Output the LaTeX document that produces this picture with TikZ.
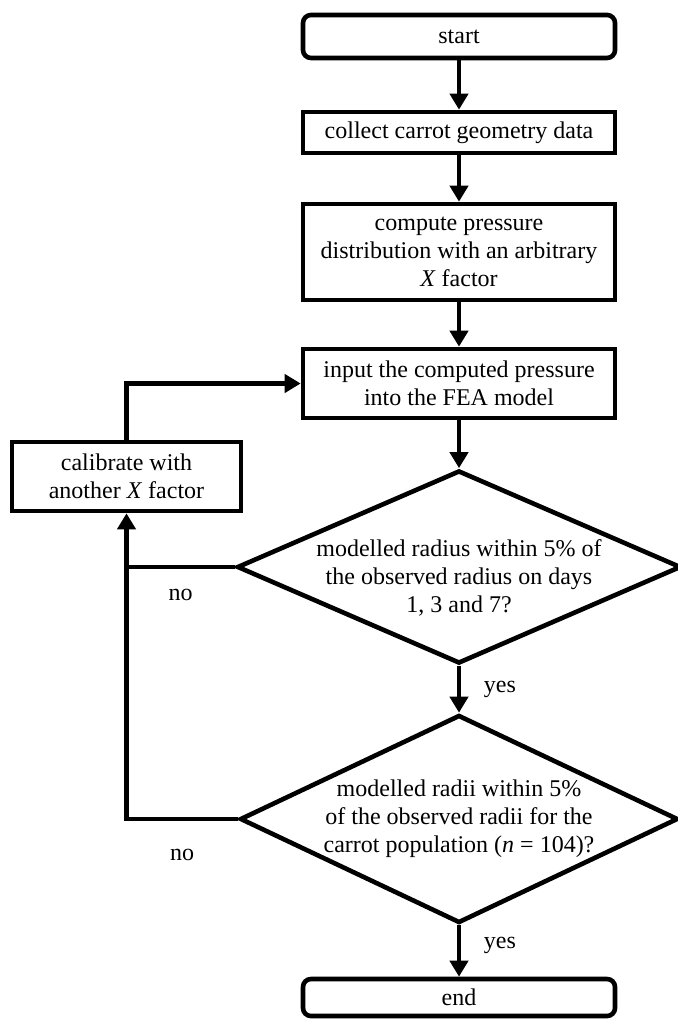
\documentclass[tikz,border=0pt]{standalone}
\usepackage{fontspec}
\setmainfont{Liberation Serif}
\usetikzlibrary{arrows.meta,shapes.geometric}

\begin{document}
\begin{tikzpicture}[x=0.5pt,y=-0.5pt,
		every node/.style={font=\fontsize{12}{14}\selectfont,align=center},
		box/.style={draw,line width=2.3pt,minimum width=156pt,inner sep=2pt},
		term/.style={box,rounded corners=4pt},
		test/.style={draw,diamond,line width=2.3pt,aspect=2.3,inner sep=-5pt,minimum width=219pt},
		arr/.style={line width=2.3pt,-{Triangle[length=8pt,width=9pt]}},
		lbl/.style={inner sep=0pt}]
		\useasboundingbox (0,0) rectangle (677,1020);
		\node[term,minimum height=21.5pt] (start) at (459,36.5) {start};
		\node[box,minimum height=20.5pt] (collect) at (459,132.5) {collect carrot geometry data};
		\node[box,minimum height=48pt] (compute) at (459,252) {compute pressure\\distribution with an arbitrary\\\textit{X} factor};
		\node[box,minimum height=34.5pt] (input) at (459,383.5) {input the computed pressure\\into the FEA model};
		\node[box,minimum width=114.5pt,minimum height=34.5pt] (calib) at (126.5,476.5) {calibrate with\\another \textit{X} factor};
		% text sits a little low in the first test
		\node[test,minimum height=95pt] (radius) at (459,567) {\rule{0pt}{19pt}modelled radius within 5\% of\\the observed radius on days\\1, 3 and 7?};
		\node[test,minimum height=104pt] (radii) at (459,819) {modelled radii within 5\%\\of the observed radii for the\\carrot population (\textit{n} = 104)?};
		\node[term,minimum height=18.5pt] (end) at (459,997.5) {end};

		\draw[arr] (start) -- (collect);
		\draw[arr] (collect) -- (compute);
		\draw[arr] (compute) -- (input);
		\draw[arr] (input) -- (radius);
		\draw[arr] (radius) -- node[right=8pt] {yes} (radii);
		\draw[arr] (radii) -- node[pos=0.4,right=8pt] {yes} (end);
		\draw[line width=2.3pt] (radius.west) -- (radius.west -| calib.south) node[midway,below=10pt,lbl] {no};
		\draw[arr] (radii.west) -| node[pos=0.25,below=14pt,lbl] {no} (calib.south);
		\draw[arr] (calib.north) |- (input.west);
	\end{tikzpicture}
\end{document}
